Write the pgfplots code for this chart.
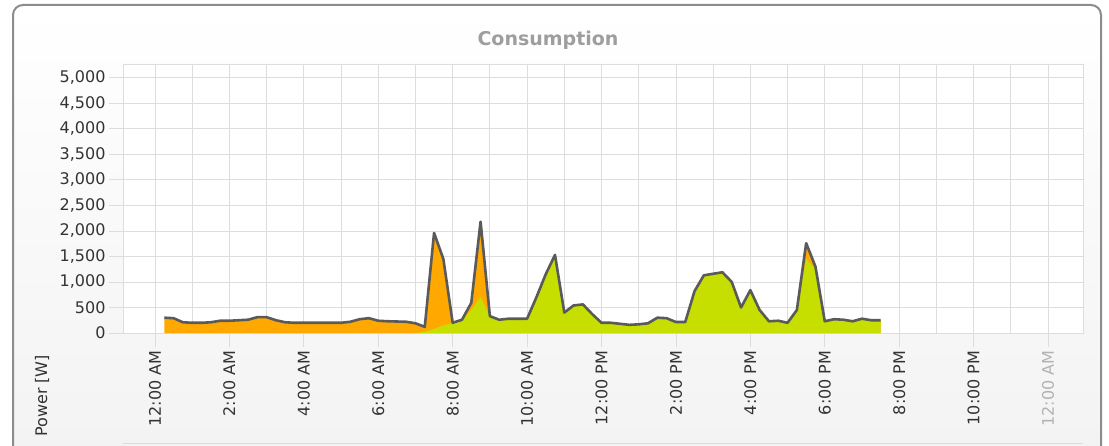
\documentclass[border=0pt]{standalone}
\usepackage{pgfplots}
\pgfplotsset{compat=1.18}
\usepackage{pgfplotstable}
\usepackage{fontspec}
\setmainfont{DejaVu Sans}
\definecolor{cons}{HTML}{FFA800}
\definecolor{self}{HTML}{C6DF00}
\definecolor{linec}{HTML}{5A5A5A}
\definecolor{gridc}{HTML}{DDDDDD}
\definecolor{framec}{HTML}{8C8C8C}
\definecolor{labc}{HTML}{333333}
\pgfplotstableread{
h t g
0.25 300 0
0.5 290 0
0.75 210 0
1.0 200 0
1.25 200 0
1.5 210 0
1.75 240 0
2.0 240 0
2.25 250 0
2.5 260 0
2.75 310 0
3.0 310 0
3.25 250 0
3.5 210 0
3.75 200 0
4.0 200 0
4.25 200 0
4.5 200 0
4.75 200 0
5.0 200 0
5.25 220 0
5.5 270 0
5.75 290 0
6.0 240 0
6.25 230 0
6.5 225 0
6.75 220 0
7.0 190 0
7.25 120 20
7.5 1960 80
7.75 1450 150
8.0 200 200
8.25 260 260
8.5 590 450
8.75 2180 700
9.0 330 330
9.25 260 260
9.5 280 280
9.75 280 280
10.0 280 280
10.25 700 700
10.5 1150 1150
10.75 1530 1530
11.0 400 400
11.25 540 540
11.5 560 560
11.75 370 370
12.0 200 200
12.25 200 200
12.5 180 180
12.75 160 160
13.0 170 170
13.25 190 190
13.5 300 300
13.75 290 290
14.0 215 215
14.25 215 215
14.5 820 820
14.75 1130 1130
15.0 1160 1160
15.25 1190 1190
15.5 1000 1000
15.75 500 500
16.0 840 840
16.25 450 450
16.5 230 230
16.75 240 240
17.0 200 200
17.25 450 450
17.5 1760 1450
17.75 1300 1250
18.0 230 230
18.25 270 270
18.5 260 260
18.75 230 230
19.0 280 280
19.25 250 250
19.5 250 250
}\datatable
\begin{document}
\begin{tikzpicture}[x=1pt,y=1pt]
\clip (0,0) rectangle (1109,445);
\path[use as bounding box] (0,0) rectangle (1109,445);
\shade[top color=white, bottom color=black!5, draw=framec, line width=2pt, rounded corners=10pt]
  (13,-30) rectangle (1101,440);
\draw[gridc, line width=1pt] (123,2) -- (1083,2);
\node[rotate=90, anchor=west, font=\fontsize{16}{16}\selectfont, text=labc, inner sep=0pt] at (42,8) {Power [W]};
\node[font=\fontsize{19}{19}\selectfont\bfseries, text=black!38] at (548,405) {Consumption};
\begin{axis}[
  at={(123pt,112pt)}, anchor=south west,
  scale only axis, width=960pt, height=268pt,
  xmin=-0.86, xmax=24.94, ymin=0, ymax=5250,
  axis background/.style={fill=white},
  axis line style={gridc, line width=1pt},
  xtick={0,2,...,24},
  xticklabels={12:00 AM,2:00 AM,4:00 AM,6:00 AM,8:00 AM,10:00 AM,12:00 PM,2:00 PM,4:00 PM,6:00 PM,8:00 PM,10:00 PM,{\color{black!30}12:00 AM}},
  minor xtick={1,3,...,23},
  ytick={0,500,...,5000},
  grid=both,
  major grid style={gridc, line width=0.8pt},
  minor grid style={gridc, line width=0.8pt},
  tick align=outside,
  major tick length=14pt,
  minor tick length=0pt,
  tick style={gridc, line width=0.8pt},
  xtick pos=bottom, ytick pos=left,
  tick label style={font=\fontsize{16}{16}\selectfont, text=labc},
  xticklabel style={rotate=90, anchor=east},
  /pgf/number format/.cd, assume math mode=true, 1000 sep={,}, fixed,
]
\addplot[draw=none, fill=cons] table[x=h, y=t] {\datatable} \closedcycle;
\addplot[draw=none, fill=self] table[x=h, y=g] {\datatable} \closedcycle;
\addplot[linec, line width=2.6pt, line join=round] table[x=h, y=t] {\datatable};
\end{axis}
\end{tikzpicture}
\end{document}
